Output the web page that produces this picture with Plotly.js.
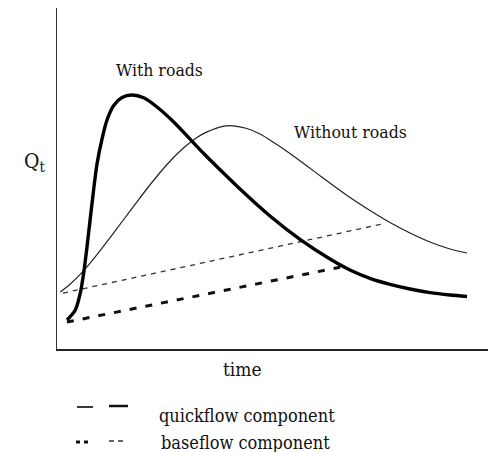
<!DOCTYPE html>
<html>
<head>
<meta charset="utf-8">
<script src="https://cdn.plot.ly/plotly-3.0.1.min.js"></script>
<style>
html,body{margin:0;padding:0;background:#fff;}
#chart{width:490px;height:452px;}
</style>
</head>
<body>
<div id="chart"></div>
<script>
// time and discharge in relative units (0-100)
const withRoadsT = [2.32, 4.25, 5.41, 6.19, 6.96, 7.73, 8.52, 9.28, 10.44, 11.60, 13.16, 15.08, 17.40, 20.12, 23.20, 27.08, 30.93, 34.04, 36.66, 42.46, 49.42, 56.38, 63.34, 67.98, 72.62, 77.26, 81.90, 86.54, 91.18, 95.13];
const withRoadsQ = [8.50, 11.44, 16.42, 22.29, 29.91, 38.42, 46.92, 54.25, 61.58, 67.16, 71.41, 73.75, 74.49, 73.67, 70.97, 66.57, 61.47, 57.33, 54.02, 46.92, 39.00, 32.14, 26.39, 23.17, 20.70, 18.94, 17.60, 16.54, 15.84, 15.40];

const withoutRoadsT = [0.77, 3.09, 6.19, 9.28, 12.37, 15.48, 18.56, 21.65, 25.52, 29.40, 32.48, 34.80, 38.52, 40.84, 44.08, 47.10, 50.12, 54.06, 58.00, 61.72, 65.20, 67.98, 72.62, 77.26, 81.90, 86.54, 91.18, 95.13];
const withoutRoadsQ = [16.72, 19.06, 22.99, 27.68, 32.76, 37.98, 43.17, 48.24, 54.11, 59.00, 62.05, 63.67, 65.31, 65.45, 64.66, 63.05, 60.70, 57.33, 53.67, 50.15, 46.92, 44.43, 40.62, 37.10, 34.02, 31.38, 29.33, 28.15];

const baseWithoutT = [1.4, 40.1, 75.6];
const baseWithoutQ = [16.4, 27.0, 36.7];

const baseWithT = [2.3, 40.1, 65.7];
const baseWithQ = [7.9, 17.6, 24.0];

const curveLabels = ["With roads", "Without roads"];
const axisLabels = ["time", "Q<sub>t</sub>"];
const legendLabels = ["quickflow component", "baseflow component"];

const FONT = "DejaVu Serif Condensed, DejaVu Serif";
// pixel -> paper helpers (plot area x 57..488, y 8..349)
const PL = 57, PR = 488, PT = 8, PB = 349;
const px = v => (v - PL) / (PR - PL);
const py = v => (PB - v) / (PB - PT);

const traces = [
  {x: baseWithoutT, y: baseWithoutQ, mode: 'lines', line: {color: '#333', width: 1.3, dash: '5px,5px'}},
  {x: baseWithT, y: baseWithQ, mode: 'lines', line: {color: '#111', width: 3, dash: '7px,9px'}},
  {x: withoutRoadsT, y: withoutRoadsQ, mode: 'lines', line: {color: '#222', width: 1.2, shape: 'spline', smoothing: 0.8}},
  {x: withRoadsT, y: withRoadsQ, mode: 'lines', line: {color: '#000', width: 3.4, shape: 'spline', smoothing: 0.8}}
];

const ann = (text, x, y, size, xanchor) => ({
  text: text, xref: 'paper', yref: 'paper', x: px(x), y: py(y),
  xanchor: xanchor || 'center', yanchor: 'middle', showarrow: false,
  font: {family: FONT, size: size, color: '#111'}
});

const layout = {
  width: 490, height: 452,
  margin: {l: PL, r: 490 - PR, t: PT, b: 452 - PB},
  paper_bgcolor: '#fff', plot_bgcolor: '#fff',
  showlegend: false,
  font: {family: FONT},
  xaxis: {range: [0, 100], showline: true, linecolor: '#222', linewidth: 1.5, showgrid: false, zeroline: false, showticklabels: false, ticks: ''},
  yaxis: {range: [0, 100], showline: true, linecolor: '#333', linewidth: 1.5, showgrid: false, zeroline: false, showticklabels: false, ticks: ''},
  annotations: [
    ann(curveLabels[0], 159, 70, 17.5),
    ann(curveLabels[1], 350, 132, 17.5),
    ann(axisLabels[0], 242, 369, 19),
    ann(axisLabels[1], 35, 162, 21),
    ann(legendLabels[0], 157, 415, 18, 'left'),
    ann(legendLabels[1], 159, 442, 18, 'left')
  ],
  shapes: [
    {type: 'line', xref: 'paper', yref: 'paper', x0: px(77), x1: px(93), y0: py(407), y1: py(407), line: {color: '#222', width: 1.8}},
    {type: 'line', xref: 'paper', yref: 'paper', x0: px(109), x1: px(128), y0: py(406), y1: py(406), line: {color: '#111', width: 2.5}},
    {type: 'line', xref: 'paper', yref: 'paper', x0: px(76), x1: px(88), y0: py(442), y1: py(442), line: {color: '#111', width: 3, dash: '4px,4px'}},
    {type: 'line', xref: 'paper', yref: 'paper', x0: px(109), x1: px(123), y0: py(441), y1: py(441), line: {color: '#333', width: 1.4, dash: '5px,4px'}}
  ]
};

Plotly.newPlot('chart', traces, layout, {displayModeBar: false, staticPlot: true});
</script>
</body>
</html>
